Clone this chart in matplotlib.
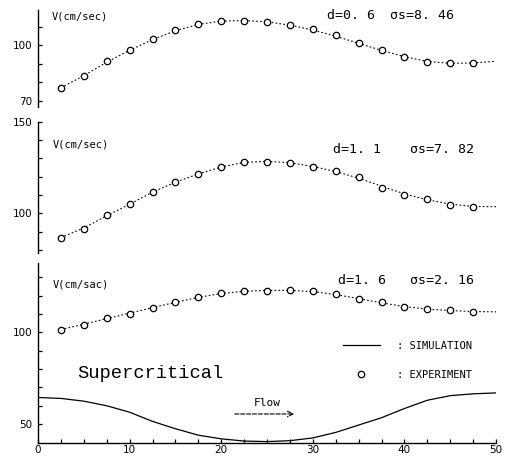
import numpy as np
import matplotlib.pyplot as plt
from matplotlib.ticker import FixedLocator, FixedFormatter, MultipleLocator

#Distance along the channel
x_exp = [2.5, 5, 7.5, 10, 12.5, 15, 17.5, 20, 22.5, 25, 27.5, 30, 32.5, 35, 37.5, 40, 42.5, 45, 47.5]
x_sim = [2.5, 5, 7.5, 10, 12.5, 15, 17.5, 20, 22.5, 25, 27.5, 30, 32.5, 35, 37.5, 40, 42.5, 45, 47.5, 50]
x_bed = [0, 2.5, 5, 7.5, 10, 12.5, 15, 17.5, 20, 22.5, 25, 27.5, 30, 32.5, 35, 37.5, 40, 42.5, 45, 47.5, 50]

#Velocity, d=0.6
v1_exp = [77.0, 83.1, 91.3, 97.3, 103.3, 108.2, 111.5, 113.1, 113.1, 112.6, 110.9, 108.7, 105.5, 101.1, 97.3, 93.4, 90.7, 90.2, 90.2]
v1_sim = [77.0, 83.5, 90.8, 97.2, 103.0, 107.8, 111.2, 113.0, 113.3, 112.6, 110.8, 108.2, 104.8, 101.0, 97.2, 93.8, 91.2, 90.2, 90.4, 91.3]

#Velocity, d=1.1
v2_exp = [86.7, 91.4, 99.1, 104.9, 111.8, 117.3, 121.3, 125.5, 127.9, 128.2, 127.3, 125.1, 123.3, 119.7, 114.0, 110.0, 107.7, 104.5, 103.6]
v2_sim = [86.7, 92.0, 98.6, 105.0, 111.5, 117.0, 121.5, 125.3, 127.8, 128.4, 127.6, 125.6, 122.8, 119.2, 114.8, 110.6, 107.4, 105.0, 103.7, 103.6]

#Velocity, d=1.6
v3_exp = [101.5, 104.2, 107.5, 110.2, 113.3, 116.2, 119.3, 121.5, 122.4, 122.4, 123.0, 122.4, 120.6, 118.0, 116.2, 113.8, 112.4, 112.0, 111.1]
v3_sim = [101.5, 104.4, 107.4, 110.4, 113.4, 116.3, 119.0, 121.1, 122.3, 122.8, 122.8, 122.1, 120.5, 118.3, 116.0, 114.0, 112.6, 111.8, 111.3, 111.1]

#Bed profile
bed = [64.5, 64.0, 62.5, 60.0, 56.5, 51.5, 47.5, 44.0, 42.0, 40.8, 40.5, 41.0, 42.5, 45.5, 49.5, 53.5, 58.5, 63.0, 65.5, 66.5, 67.0]

#Labels
d_labels = ["d=0. 6", "d=1. 1", "d=1. 6"]
s_labels = ["\u03c3s=8. 46", "\u03c3s=7. 82", "\u03c3s=2. 16"]
v_labels = ["V(cm/sec)", "V(cm/sec)", "V(cm/sac)"]
x_ticks = [0, 10, 20, 30, 40, 50]

y1_ticks = [70, 80, 90, 100, 110]
y1_ticklabels = ["70", "", "", "100", ""]
y2_ticks = [80, 90, 100, 110, 120, 130, 140, 150]
y2_ticklabels = ["", "", "100", "", "", "", "", "150"]
y3_ticks = [50, 60, 70, 80, 90, 100, 110, 120, 130]
y3_ticklabels = ["50", "", "", "", "", "100", "", "", ""]


fig = plt.figure(figsize=(5.11, 4.58), dpi=100)

left = 0.0744
width = 0.8963
ax1 = fig.add_axes([left, 0.7664, width, 0.2118])
ax2 = fig.add_axes([left, 0.4476, width, 0.2865])
ax3 = fig.add_axes([left, 0.0338, width, 0.3920])

ax1.set_ylim(66.6, 119)
ax2.set_ylim(78.3, 150)
ax3.set_ylim(40, 137.7)

sim_style = dict(color='black', linewidth=0.8, linestyle=(0, (1.5, 2)))
exp_style = dict(linestyle='none', marker='o', markersize=4.6, markerfacecolor='white',
                 markeredgecolor='black', markeredgewidth=0.9)

panels = [(ax1, v1_sim, v1_exp, y1_ticks, y1_ticklabels),
          (ax2, v2_sim, v2_exp, y2_ticks, y2_ticklabels),
          (ax3, v3_sim, v3_exp, y3_ticks, y3_ticklabels)]

for ax, v_sim, v_exp, yt, ytl in panels:
    ax.plot(x_sim, v_sim, **sim_style)
    ax.plot(x_exp, v_exp, **exp_style)
    ax.set_xlim(0, 50)
    ax.patch.set_alpha(0)
    for s in ['top', 'right']:
        ax.spines[s].set_visible(False)
    ax.spines['left'].set_linewidth(1.0)
    ax.yaxis.set_major_locator(FixedLocator(yt))
    ax.yaxis.set_major_formatter(FixedFormatter(ytl))
    ax.tick_params(axis='y', direction='in', length=3, width=0.9, pad=4, labelsize=7.5)

for ax in [ax1, ax2]:
    ax.spines['bottom'].set_visible(False)
    ax.set_xticks([])

#Bed profile and x axis on the bottom panel
ax3.plot(x_bed, bed, color='black', linewidth=0.9)
ax3.spines['bottom'].set_linewidth(1.0)
ax3.set_xticks(x_ticks)
ax3.xaxis.set_minor_locator(MultipleLocator(2.5))
ax3.tick_params(axis='x', which='both', direction='in', length=3, width=0.9, pad=2, labelsize=7.5)

#Panel annotations
txt_pos = [(ax1, 0.936, 0.948, 0.631, 0.769),
           (ax2, 0.83, 0.785, 0.644, 0.812),
           (ax3, 0.88, 0.905, 0.655, 0.812)]
for i, (ax, vy, dy, dx, sx) in enumerate(txt_pos):
    ax.text(0.03 if i == 0 else 0.033, vy, v_labels[i], transform=ax.transAxes,
            fontsize=7.5, family='DejaVu Sans Mono', va='center', ha='left')
    ax.text(dx, dy, d_labels[i], transform=ax.transAxes,
            fontsize=9.5, family='DejaVu Sans Mono', va='center', ha='left')
    ax.text(sx, dy, s_labels[i], transform=ax.transAxes,
            fontsize=9.5, family='DejaVu Sans Mono', va='center', ha='left')

ax3.text(0.085, 0.387, "Supercritical", transform=ax3.transAxes,
         fontsize=13.5, family='Liberation Mono', va='center', ha='left')

ax3.text(0.50, 0.22, "Flow", transform=ax3.transAxes,
         fontsize=8, family='DejaVu Sans Mono', va='center', ha='center')
ax3.annotate("", xy=(0.5655, 0.159), xytext=(0.4236, 0.159),
             xycoords='axes fraction', textcoords='axes fraction',
             arrowprops=dict(arrowstyle='->', linestyle='--', linewidth=0.8, color='black'))

#Legend
h_sim, = ax3.plot([], [], color='black', linewidth=0.9)
h_exp, = ax3.plot([], [], **exp_style)
ax3.legend([h_sim, h_exp], [": SIMULATION", ": EXPERIMENT"], loc='upper left',
           bbox_to_anchor=(0.665, 0.565), frameon=False, borderpad=0, borderaxespad=0,
           handlelength=3.6, handletextpad=1.6, labelspacing=1.8,
           prop={'family': 'DejaVu Sans Mono', 'size': 7.5})

fig.savefig("out.png", dpi=100)
